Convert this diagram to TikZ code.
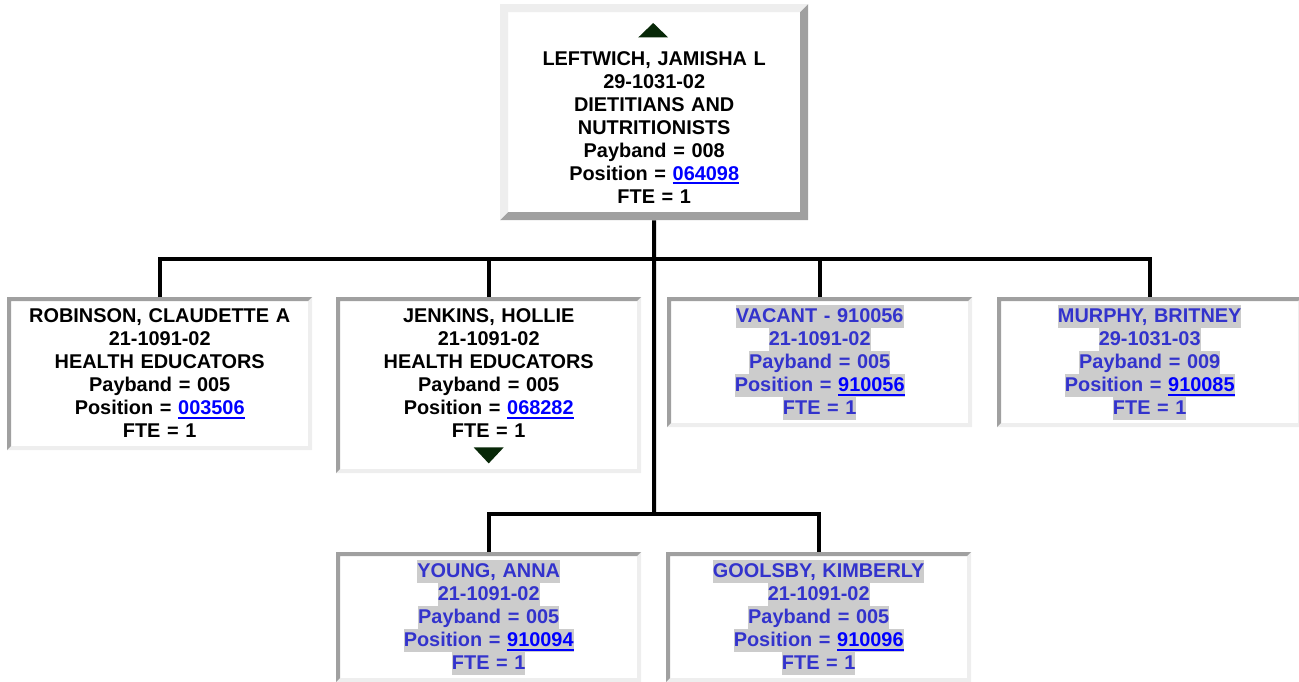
\documentclass[tikz,border=0pt]{standalone}
\usepackage{fontspec}
\setmainfont{Liberation Sans}
\usetikzlibrary{positioning,calc}
\definecolor{boxdark}{RGB}{160,160,160}
\definecolor{boxlight}{RGB}{238,238,238}
\definecolor{vacblue}{RGB}{51,51,204}
\definecolor{hlgray}{RGB}{204,204,204}
\definecolor{linkblue}{RGB}{0,0,255}
\definecolor{markgreen}{RGB}{8,40,8}
\newcommand\orgline[1]{\rule[-4.8pt]{0pt}{23pt}#1}
\newcommand\vacline[1]{{\fboxsep=0pt\colorbox{hlgray}{\orgline{#1}}}}
\newcommand\poslink[1]{{\color{linkblue}\setbox0\hbox{#1}\rlap{\rule[-3.6pt]{\wd0}{2pt}}\box0}}
\tikzset{
  bevel/.style n args={3}{fill=white, path picture={
      \coordinate (pnw) at (path picture bounding box.north west);
      \coordinate (pne) at (path picture bounding box.north east);
      \coordinate (psw) at (path picture bounding box.south west);
      \coordinate (pse) at (path picture bounding box.south east);
      \fill[#1] (pnw) -- (pne) -- ($(pne)+(-#3,-#3)$) -- ($(pnw)+(#3,-#3)$)
                -- ($(psw)+(#3,#3)$) -- (psw) -- cycle;
      \fill[#2] (pse) -- (psw) -- ($(psw)+(#3,#3)$) -- ($(pse)+(-#3,#3)$)
                -- ($(pne)+(-#3,-#3)$) -- (pne) -- cycle;}},
  cardbase/.style={anchor=north west, align=center, inner xsep=4pt,
                   font=\fontsize{19.9}{23}\selectfont\bfseries},
  orgbox/.style={cardbase, bevel={boxdark}{boxlight}{4pt}, minimum width=305pt,
                 text width=297pt, inner ysep=7.5pt},
  vacbox/.style={orgbox, text=vacblue},
  headbox/.style={cardbase, bevel={boxlight}{boxdark}{8pt}, minimum width=308pt,
                  text width=300pt, minimum height=216pt, inner ysep=12pt},
  wire/.style={line width=4pt, black},
  marker/.style={fill=markgreen}
}

\begin{document}
\begin{tikzpicture}[x=1pt, y=-1pt]
\useasboundingbox (0,0) rectangle (1299,682);
\node[headbox] (head) at (500,4) {\rule{0pt}{26.2pt}\\
  \orgline{LEFTWICH, JAMISHA L}\\ \orgline{29-1031-02}\\ \orgline{DIETITIANS AND}\\
  \orgline{NUTRITIONISTS}\\ \orgline{Payband = 008}\\
  \orgline{Position = \poslink{064098}}\\ \orgline{FTE = 1}};
\node[orgbox] (robinson) at (7,297) {\orgline{ROBINSON, CLAUDETTE A}\\
  \orgline{21-1091-02}\\ \orgline{HEALTH EDUCATORS}\\ \orgline{Payband = 005}\\
  \orgline{Position = \poslink{003506}}\\ \orgline{FTE = 1}};
\node[orgbox] (jenkins) at (336,297) {\orgline{JENKINS, HOLLIE}\\
  \orgline{21-1091-02}\\ \orgline{HEALTH EDUCATORS}\\ \orgline{Payband = 005}\\
  \orgline{Position = \poslink{068282}}\\ \orgline{FTE = 1}\\ \orgline{}};
\node[vacbox] (vacant) at (667,297) {\vacline{VACANT - 910056}\\
  \vacline{21-1091-02}\\ \vacline{Payband = 005}\\
  \vacline{Position = \poslink{910056}}\\ \vacline{FTE = 1}};
\node[vacbox] (murphy) at (997,297) {\vacline{MURPHY, BRITNEY}\\
  \vacline{29-1031-03}\\ \vacline{Payband = 009}\\
  \vacline{Position = \poslink{910085}}\\ \vacline{FTE = 1}};
\node[vacbox] (young) at (336,552) {\vacline{YOUNG, ANNA}\\
  \vacline{21-1091-02}\\ \vacline{Payband = 005}\\
  \vacline{Position = \poslink{910094}}\\ \vacline{FTE = 1}};
\node[vacbox] (goolsby) at (666,552) {\vacline{GOOLSBY, KIMBERLY}\\
  \vacline{21-1091-02}\\ \vacline{Payband = 005}\\
  \vacline{Position = \poslink{910096}}\\ \vacline{FTE = 1}};
\coordinate (hub1) at (654,259);
\coordinate (hub2) at (654,514);
\draw[wire] (head.south) -- (hub2);
\draw[wire] (robinson.north) |- (hub1) -| (murphy.north);
\draw[wire] (jenkins.north) -- (jenkins.north |- hub1);
\draw[wire] (vacant.north) -- (vacant.north |- hub1);
\draw[wire] (young.north) |- (hub2) -| (goolsby.north);
\fill[marker] ($(head.north)+(-1pt,-19pt)$) -- ++(15pt,-14.5pt) -- ++(-30pt,0pt) -- cycle;
\fill[marker] ($(jenkins.south)+(-15pt,26pt)$) -- ++(30pt,0pt)
  -- ($(jenkins.south)+(0pt,10pt)$) -- cycle;
\end{tikzpicture}
\end{document}
